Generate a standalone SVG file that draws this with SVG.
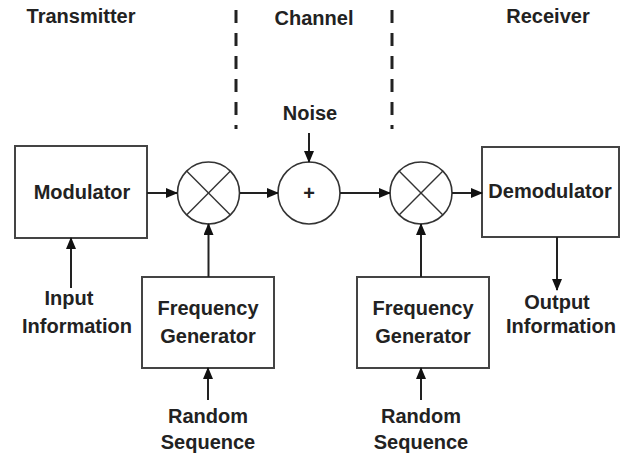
<svg xmlns="http://www.w3.org/2000/svg" width="636" height="459" viewBox="0 0 636 459">
<style>
text{font-family:"Liberation Sans",Arial,sans-serif;font-weight:bold;font-size:20px;fill:#222;text-anchor:middle}
.box{fill:#fff;stroke:#444;stroke-width:2}
.circ{fill:#fff;stroke:#333;stroke-width:1.6}
.x{stroke:#333;stroke-width:1.4}
.con{stroke:#222;stroke-width:2;fill:none;marker-end:url(#ah)}
.dash{stroke:#222;stroke-width:3;stroke-dasharray:13 10}
</style>
<defs>
<marker id="ah" markerUnits="userSpaceOnUse" markerWidth="12" markerHeight="10" refX="11" refY="5" orient="auto">
<path d="M0,0 L12,5 L0,10 z" fill="#111"/>
</marker>
</defs>
<rect width="636" height="459" fill="#fff"/>
<g id="labels">
<text x="81" y="23">Transmitter</text>
<text x="314" y="25">Channel</text>
<text x="548" y="23">Receiver</text>
<line class="dash" x1="236" y1="10" x2="236" y2="129"/>
<line class="dash" x1="392" y1="10" x2="392" y2="129"/>
</g>
<g id="modulator">
<rect class="box" x="15" y="146" width="132" height="92"/>
<text x="82" y="199">Modulator</text>
</g>
<g id="mixer1">
<circle class="circ" cx="208.5" cy="193" r="31"/>
<line class="x" x1="186.6" y1="171.1" x2="230.4" y2="214.9"/>
<line class="x" x1="230.4" y1="171.1" x2="186.6" y2="214.9"/>
</g>
<g id="adder">
<circle class="circ" cx="309" cy="193" r="31"/>
<text x="309" y="200" style="font-size:20px">+</text>
</g>
<g id="noise"><text x="310" y="120">Noise</text></g>
<g id="mixer2">
<circle class="circ" cx="421" cy="193" r="31"/>
<line class="x" x1="399.1" y1="171.1" x2="442.9" y2="214.9"/>
<line class="x" x1="442.9" y1="171.1" x2="399.1" y2="214.9"/>
</g>
<g id="demodulator">
<rect class="box" x="482" y="147" width="137" height="90"/>
<text x="550" y="198">Demodulator</text>
</g>
<g id="freqgen1">
<rect class="box" x="142" y="277" width="132" height="91"/>
<text x="208" y="315">Frequency</text>
<text x="208" y="343">Generator</text>
</g>
<g id="freqgen2">
<rect class="box" x="357" y="277" width="132" height="91"/>
<text x="423" y="315">Frequency</text>
<text x="423" y="343">Generator</text>
</g>
<g id="input"><text x="69" y="305">Input</text><text x="77" y="333">Information</text></g>
<g id="output"><text x="557" y="309">Output</text><text x="561" y="333">Information</text></g>
<g id="random1"><text x="208" y="423">Random</text><text x="208" y="449">Sequence</text></g>
<g id="random2"><text x="421" y="423">Random</text><text x="421" y="449">Sequence</text></g>
<g id="connectors">
<line class="con" x1="147" y1="193" x2="177" y2="193"/>
<line class="con" x1="240" y1="193" x2="278" y2="193"/>
<line class="con" x1="340" y1="193" x2="390" y2="193"/>
<line class="con" x1="452" y1="193" x2="482" y2="193"/>
<line class="con" x1="309" y1="133" x2="309" y2="162"/>
<line class="con" x1="208.5" y1="277" x2="208.5" y2="224"/>
<line class="con" x1="421" y1="277" x2="421" y2="224"/>
<line class="con" x1="71" y1="288" x2="71" y2="238"/>
<line class="con" x1="557" y1="237" x2="557" y2="290"/>
<line class="con" x1="208" y1="400" x2="208" y2="368"/>
<line class="con" x1="421" y1="400" x2="421" y2="368"/>
</g>
</svg>
